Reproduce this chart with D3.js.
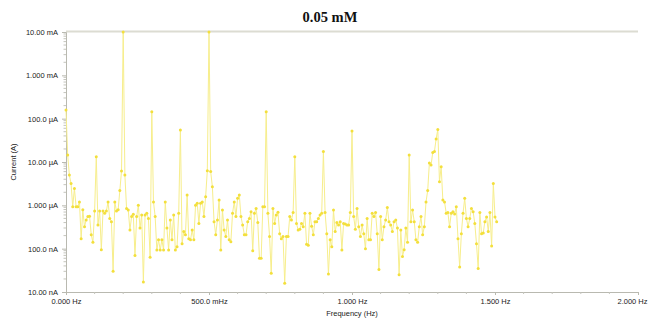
<!DOCTYPE html>
<html>
<head>
<meta charset="utf-8">
<script src="https://cdn.jsdelivr.net/npm/d3@7"></script>
<style>
  html, body { margin: 0; padding: 0; background: #ffffff; }
  svg { display: block; }
  text { font-family: "Liberation Sans", Arial, sans-serif; }
</style>
</head>
<body>
<svg id="chart" width="648" height="320"></svg>
<script>
// Spectrum of the measured current, 0.05 mM sample
const chartTitle = "0.05 mM";
const freqStepHz = 1 / 170;   // spacing of the frequency bins

// Current amplitude per bin, in microamperes
const currentMicroA = [
  158, 14.5, 5.0, 3.2, 0.93, 2.45, 0.93, 0.93, 1.2, 0.17,
  0.79, 0.32, 0.46, 0.55, 0.56, 0.21, 0.14, 0.74, 13.2, 0.35,
  0.74, 0.095, 0.74, 0.66, 0.74, 1.2, 0.5, 0.42, 0.03, 1.2,
  0.74, 0.79, 2.2, 6.2, 10000, 5.0, 0.85, 0.78, 0.27, 0.55,
  0.62, 0.07, 0.55, 1.0, 0.3, 0.6, 0.017, 0.6, 0.66, 0.5,
  0.063, 145, 1.2, 0.55, 0.093, 0.16, 0.093, 0.16, 0.093, 1.2,
  0.3, 0.093, 0.46, 0.16, 0.6, 0.093, 0.11, 0.66, 55, 0.13,
  0.25, 0.21, 1.74, 0.17, 0.16, 0.27, 0.16, 1.0, 1.12, 0.38,
  1.12, 1.2, 0.55, 1.58, 6.3, 10000, 6.0, 2.7, 0.42, 0.21,
  0.46, 1.32, 0.093, 0.78, 0.27, 0.19, 0.46, 0.16, 0.145, 0.66,
  1.2, 0.55, 1.45, 1.74, 0.55, 0.35, 0.21, 0.21, 0.42, 0.5,
  0.71, 0.089, 0.66, 0.85, 0.4, 0.06, 0.06, 0.93, 0.93, 145,
  0.66, 0.19, 0.027, 0.85, 0.38, 0.6, 0.69, 0.22, 0.17, 0.19,
  0.016, 0.19, 0.19, 0.55, 0.46, 0.68, 13.2, 0.38, 0.27, 0.28,
  0.38, 0.32, 0.66, 0.126, 0.12, 0.66, 0.33, 0.21, 0.42, 0.42,
  0.5, 0.6, 0.66, 17.4, 0.68, 0.22, 0.026, 0.16, 0.11, 0.78,
  0.25, 0.4, 0.35, 0.42, 0.093, 0.38, 0.37, 0.35, 0.35, 0.68,
  52, 0.55, 0.28, 0.85, 0.32, 0.19, 0.35, 0.22, 0.1, 0.5,
  0.16, 0.16, 0.66, 0.55, 0.68, 0.22, 0.033, 0.55, 0.16, 0.32,
  0.46, 0.89, 0.42, 0.35, 0.25, 0.42, 0.46, 0.3, 0.025, 0.27,
  0.066, 0.095, 0.3, 0.14, 14.5, 0.42, 0.78, 0.42, 0.16, 0.14,
  0.32, 0.55, 0.21, 0.32, 1.2, 2.2, 9.5, 8.5, 16.6, 17.4,
  34, 56, 3.5, 7.8, 1.32, 1.2, 0.66, 0.68, 0.32, 0.66,
  0.71, 0.63, 0.93, 0.17, 0.038, 0.22, 0.66, 1.45, 0.5, 0.32,
  0.5, 0.85, 0.71, 0.38, 0.13, 0.035, 0.68, 0.22, 0.23, 0.42,
  0.54, 0.25, 0.68, 0.115, 3.2, 0.54, 0.42
];

// Axis ticks and their labels
const yTickValues = [1e-2, 1e-3, 1e-4, 1e-5, 1e-6, 1e-7, 1e-8];
const yTickLabels = ["10.00 mA", "1.000 mA", "100.0 \u00B5A", "10.00 \u00B5A", "1.000 \u00B5A", "100.0 nA", "10.00 nA"];
const xTickValues = [0, 0.5, 1.0, 1.5, 2.0];
const xTickLabels = ["0.000 Hz", "500.0 mHz", "1.000 Hz", "1.500 Hz", "2.000 Hz"];
const xMinorTicks = [0.1, 0.2, 0.3, 0.4, 0.6, 0.7, 0.8, 0.9, 1.1, 1.2, 1.3, 1.4, 1.6, 1.7, 1.8, 1.9];
const xAxisTitle = "Frequency (Hz)";
const yAxisTitle = "Current (A)";

const points = currentMicroA.map((v, i) => ({ f: i * freqStepHz, a: v * 1e-6 }));

const svg = d3.select("#chart");
const plot = { left: 66, right: 638, top: 32, bottom: 292 };

const x = d3.scaleLinear().domain([0, 2]).range([plot.left, plot.right]);
const y = d3.scaleLog().domain([1e-8, 1e-2]).range([plot.bottom, plot.top]).clamp(true);

// Title
svg.append("text")
  .attr("x", 330).attr("y", 22)
  .attr("text-anchor", "middle")
  .style("font-family", "'Liberation Serif', 'Times New Roman', serif")
  .style("font-weight", "bold")
  .style("font-size", "14.5px")
  .attr("fill", "#111")
  .text(chartTitle);

// Top frame line
svg.append("line")
  .attr("x1", plot.left).attr("x2", plot.right)
  .attr("y1", plot.top - 0.5).attr("y2", plot.top - 0.5)
  .attr("stroke", "#dcdcd2").attr("stroke-width", 2);

// Y axis (log) with minor ticks
const yMinor = [];
for (let e = -8; e < -2; e++) {
  for (let m = 2; m <= 9; m++) yMinor.push(m * Math.pow(10, e));
}
const yAxis = d3.axisLeft(y)
  .tickValues(yTickValues)
  .tickFormat((d, i) => yTickLabels[i])
  .tickSize(4)
  .tickPadding(4);
const gy = svg.append("g").attr("transform", `translate(${plot.left},0)`).call(yAxis);
gy.select(".domain").attr("stroke", "#b9b9b0");
gy.selectAll(".tick line").attr("stroke", "#b9b9b0");
gy.selectAll(".tick text")
  .attr("fill", "#222")
  .style("font-size", "7.5px")
  .style("font-family", "'Liberation Sans', Arial, sans-serif");
gy.selectAll(".minor")
  .data(yMinor).enter().append("line")
  .attr("class", "minor")
  .attr("x1", -2.5).attr("x2", 0)
  .attr("y1", d => y(d)).attr("y2", d => y(d))
  .attr("stroke", "#c4c4bc");

// X axis with minor ticks
const xAxis = d3.axisBottom(x)
  .tickValues(xTickValues)
  .tickFormat((d, i) => xTickLabels[i])
  .tickSize(3)
  .tickPadding(4);
const gx = svg.append("g").attr("transform", `translate(0,${plot.bottom})`).call(xAxis);
gx.select(".domain").attr("stroke", "#b9b9b0");
gx.selectAll(".tick line").attr("stroke", "#b9b9b0");
gx.selectAll(".tick text")
  .attr("fill", "#222")
  .style("font-size", "7.5px")
  .style("font-family", "'Liberation Sans', Arial, sans-serif");
// keep the last label inside the page edge
gx.selectAll(".tick text")
  .filter(d => d === 2.0)
  .attr("text-anchor", "end")
  .attr("x", 647 - x(2.0));
gx.selectAll(".minor")
  .data(xMinorTicks).enter().append("line")
  .attr("class", "minor")
  .attr("x1", d => x(d)).attr("x2", d => x(d))
  .attr("y1", 0).attr("y2", 2)
  .attr("stroke", "#c4c4bc");

// Axis titles
svg.append("text")
  .attr("x", 352).attr("y", 316)
  .attr("text-anchor", "middle")
  .style("font-size", "7.5px")
  .attr("fill", "#222")
  .text(xAxisTitle);
svg.append("text")
  .attr("transform", "translate(16,162) rotate(-90)")
  .attr("text-anchor", "middle")
  .style("font-size", "7.5px")
  .attr("fill", "#222")
  .text(yAxisTitle);

// Spectrum trace
const line = d3.line().x(d => x(d.f)).y(d => y(d.a));
svg.append("path")
  .datum(points)
  .attr("d", line)
  .attr("fill", "none")
  .attr("stroke", "#f7ee8c")
  .attr("stroke-width", 1);

svg.append("g").selectAll("circle")
  .data(points).enter().append("circle")
  .attr("cx", d => x(d.f))
  .attr("cy", d => y(d.a))
  .attr("r", 1.5)
  .attr("fill", "#f3df3c");
</script>
</body>
</html>
